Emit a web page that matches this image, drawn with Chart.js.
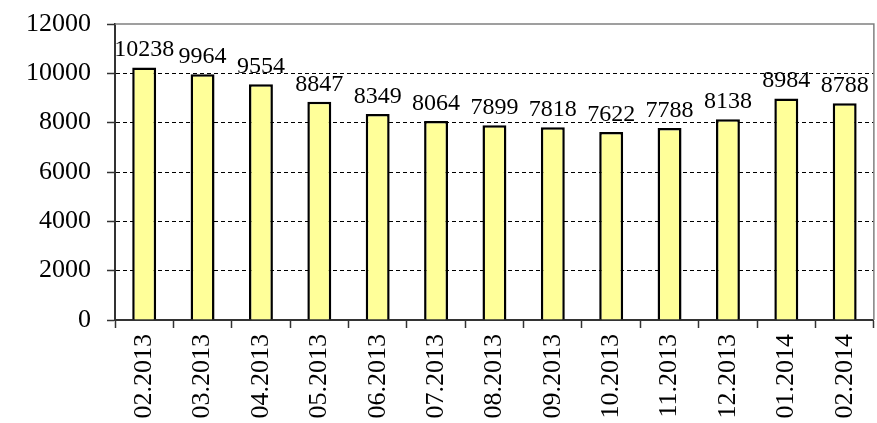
<!DOCTYPE html>
<html>
<head>
<meta charset="utf-8">
<script src="https://cdn.jsdelivr.net/npm/chart.js@4/dist/chart.umd.min.js"></script>
<style>
  html, body { margin: 0; padding: 0; background: #fff; overflow: hidden; }
</style>
</head>
<body>
<canvas id="monthChart" width="882" height="423"></canvas>
<script>
const months = ["02.2013", "03.2013", "04.2013", "05.2013", "06.2013", "07.2013", "08.2013",
    "09.2013", "10.2013", "11.2013", "12.2013", "01.2014", "02.2014"];
const counts = [10238, 9964, 9554, 8847, 8349, 8064, 7899, 7818, 7622, 7788, 8138, 8984, 8788];
const yTicks = [0, 2000, 4000, 6000, 8000, 10000, 12000];

// value labels above each bar
const valueLabels = {
    id: "valueLabels",
    afterDatasetsDraw(chart) {
        const ctx = chart.ctx;
        ctx.save();
        ctx.font = "24px 'Liberation Serif', 'Times New Roman', serif";
        ctx.fillStyle = "#000";
        ctx.textAlign = "center";
        ctx.textBaseline = "alphabetic";
        chart.getDatasetMeta(0).data.forEach((bar, i) => {
            ctx.fillText(String(counts[i]), bar.x, bar.y - 11);
        });
        ctx.restore();
    }
};

// grey frame line at the top and right of the plot area
const plotFrame = {
    id: "plotFrame",
    beforeDatasetsDraw(chart) {
        const a = chart.chartArea;
        const ctx = chart.ctx;
        ctx.save();
        ctx.strokeStyle = "#808080";
        ctx.lineWidth = 1.5;
        ctx.beginPath();
        ctx.moveTo(a.left, a.top);
        ctx.lineTo(a.right, a.top);
        ctx.lineTo(a.right, a.bottom);
        ctx.stroke();
        ctx.restore();
    }
};

let ctx = document.getElementById("monthChart").getContext("2d");
let monthChart = new Chart(ctx, {
    type: "bar",
    data: {
        labels: months,
        datasets: [{
            data: counts,
            backgroundColor: "#FFFF99",
            borderColor: "#000",
            borderWidth: 2.5,
            categoryPercentage: 0.41,
            barPercentage: 1.0
        }]
    },
    options: {
        responsive: false,
        animation: false,
        layout: {
            padding: { top: 24, right: 3, left: 0, bottom: 0 }
        },
        plugins: {
            legend: { display: false },
            tooltip: { enabled: false }
        },
        scales: {
            x: {
                afterFit: (scale) => { scale.height = 103; },
                grid: {
                    drawOnChartArea: false,
                    drawTicks: true,
                    tickLength: 8,
                    tickColor: "#333",
                    tickWidth: 1.5
                },
                border: { display: true, color: "#333", width: 2 },
                ticks: {
                    minRotation: 90,
                    maxRotation: 90,
                    padding: 6,
                    color: "#000",
                    font: { family: "'Liberation Serif', 'Times New Roman', serif", size: 26 }
                }
            },
            y: {
                min: 0,
                max: 12000,
                afterFit: (scale) => { scale.width = 115; scale.paddingTop = 0; },
                afterBuildTicks: (scale) => { scale.ticks = yTicks.map(v => ({ value: v })); },
                grid: {
                    color: (c) => (c.tick && (c.tick.value === 0 || c.tick.value === 12000)) ? "rgba(0,0,0,0)" : "#000",
                    lineWidth: 1,
                    drawTicks: true,
                    tickLength: 8,
                    tickColor: "#333",
                    tickWidth: 1.5
                },
                border: { display: true, color: "#333", width: 2, dash: [4, 3] },
                ticks: {
                    padding: 16,
                    color: "#000",
                    callback: (v) => String(v),
                    font: { family: "'Liberation Serif', 'Times New Roman', serif", size: 26 }
                }
            }
        }
    },
    plugins: [plotFrame, valueLabels]
});
</script>
</body>
</html>
